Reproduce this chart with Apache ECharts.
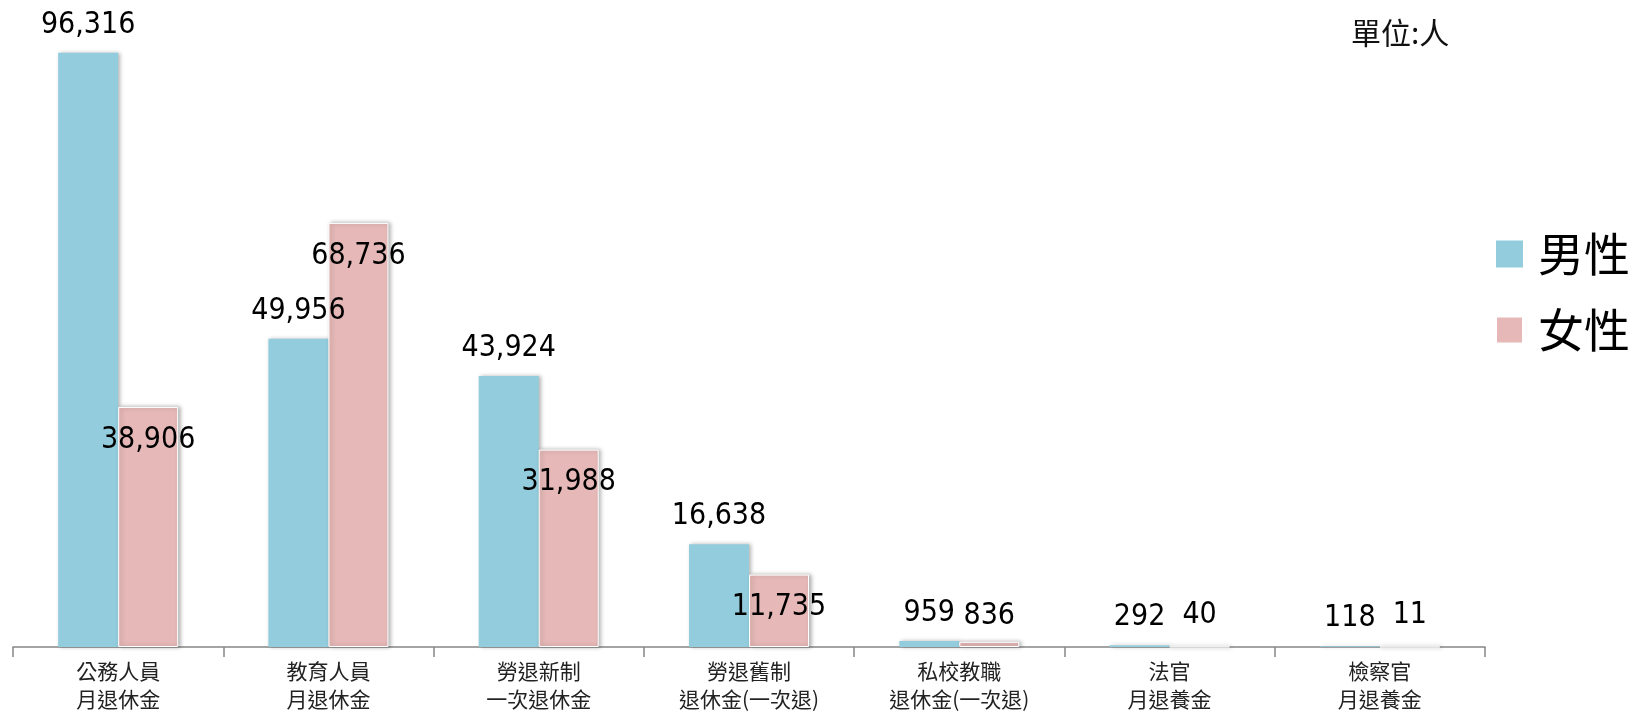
<!DOCTYPE html>
<html>
<head>
<meta charset="utf-8">
<script src="https://cdn.jsdelivr.net/npm/echarts@6/dist/echarts.min.js"></script>
<style>
html,body{margin:0;padding:0;background:#fff;}
#c{width:1649px;height:713px;}
</style>
</head>
<body>
<div id="c"></div>
<script>
const categories = ['公務人員\n月退休金','教育人員\n月退休金','勞退新制\n一次退休金','勞退舊制\n退休金(一次退)','私校教職\n退休金(一次退)','法官\n月退養金','檢察官\n月退養金'];
const seriesNames = ['男性','女性'];
const maleValues = [96316, 49956, 43924, 16638, 959, 292, 118];
const femaleValues = [38906, 68736, 31988, 11735, 836, 40, 11];
const unitText = '單位:人';

const numFont = "'Liberation Sans Narrow','DejaVu Sans Condensed',Lato,sans-serif";
const cjkFont = "'Noto Sans CJK TC','Noto Sans CJK SC',sans-serif";
const fmt = v => v.toLocaleString('en-US');

const chart = echarts.init(document.getElementById('c'));
const labelBase = {show:true, fontFamily:numFont, fontSize:30, color:'#000', formatter:p=>fmt(p.value)};

chart.setOption({
  animation:false,
  backgroundColor:'#fff',
  title:{text:unitText, left:1346, top:13, textStyle:{fontFamily:cjkFont, fontSize:30, fontWeight:'normal', color:'#111'}},
  legend:{
    data:seriesNames, orient:'vertical', left:1490, top:226,
    itemWidth:27, itemHeight:27, itemGap:30, icon:'rect',
    textStyle:{fontFamily:cjkFont, fontSize:46, color:'#000', padding:[0,0,0,10]}
  },
  grid:{left:13, right:164, top:30, bottom:66, containLabel:false},
  xAxis:{
    type:'category', data:categories,
    axisLine:{lineStyle:{color:'#868686', width:1.5}},
    axisTick:{show:true, length:10, lineStyle:{color:'#868686', width:1.5}},
    axisLabel:{fontFamily:cjkFont, fontSize:21, lineHeight:28, color:'#222', margin:10, interval:0}
  },
  yAxis:{type:'value', min:0, max:100000, show:false, splitLine:{show:false}},
  series:[
    {
      name:seriesNames[0], type:'bar', barWidth:60, barGap:'0%',
      itemStyle:{color:'#93CDDD', shadowBlur:4, shadowColor:'rgba(0,0,0,0.3)', shadowOffsetX:2},
      label:Object.assign({}, labelBase, {position:'top', distance:13}),
      data:maleValues
    },
    {
      name:seriesNames[1], type:'bar', barWidth:60,
      itemStyle:{color:'#E6B9B8', borderColor:'#fff', borderWidth:1, shadowBlur:4, shadowColor:'rgba(0,0,0,0.3)', shadowOffsetX:2},
      label:Object.assign({}, labelBase, {position:'insideTop', distance:18}),
      data:femaleValues.map(v => v < 5000
        ? {value:v, label:{position:'top', distance: v > 500 ? 11 : 16}}
        : v)
    }
  ]
});
</script>
</body>
</html>
